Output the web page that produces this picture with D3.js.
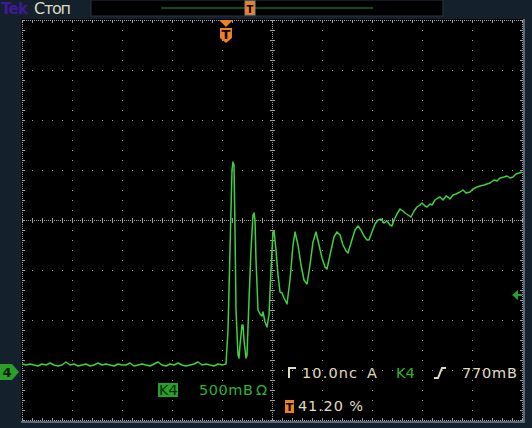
<!DOCTYPE html>
<html>
<head>
<meta charset="utf-8">
<script src="https://cdn.jsdelivr.net/npm/d3@7"></script>
<style>
  body { margin: 0; background: #15202d; }
  svg { display: block; }
  text { font-family: "DejaVu Sans", sans-serif; }
</style>
</head>
<body>
<div id="scope"></div>
<script>
// channel 4 trace, time in ns (trigger at 0), voltage in V
const baseStart = -40.8, baseStep = 0.8;
const baseVolts = [0.08,0.07,0.08,0.07,0.06,0.08,0.07,0.09,0.07,0.06,0.07,0.10,0.07,0.08,0.06,0.07,
  0.08,0.06,0.07,0.09,0.07,0.08,0.07,0.06,0.08,0.07,0.07,0.09,0.06,0.07,0.08,0.07,0.06,0.08,0.10,
  0.07,0.06,0.08,0.07,0.09,0.07,0.06,0.07,0.08,0.10,0.07,0.08,0.07,0.06,0.08,0.07,0.08];
const pulseTimes = [0,0.4,0.8,1.2,1.4,1.6,1.8,2.0,2.4,2.6,2.8,3.2,3.4,3.6,4.0,4.2,4.6,5.0,5.4,5.6,5.8,6.0,
  6.4,6.8,7.2,7.4,7.8,8.2,8.6,9.0,9.4,9.6,10.0,10.4,10.8,11.2,11.6,12.2,12.8,13.4,13.8,14.4,15.0,15.6,
  16.2,16.8,17.4,18.0,18.6,19.2,19.8,20.2,20.8,21.6,22.2,22.8,23.4,24.0,24.4,25.0,25.8,26.4,27.0,27.6,
  28.2,28.6,29.2,29.8,30.4,31.0,31.6,32.2,32.8,33.2,33.6,34.2,34.8,35.4,35.8,36.4,37.0,37.6,38.2,38.8,
  39.2,39.8,40.2,40.8,41.2,41.8,42.4,42.8,43.4,44.0,44.4,44.8,45.4,46.0,46.8,47.4,48.0,48.8,49.4,50.2,
  50.8,51.6,52.2,52.8,53.6,54.2,54.8,55.6,56.2,56.8,57.4,58.0,58.6,59.2];
const pulseVolts = [0.08,0.42,1.22,2.02,2.10,2.07,1.42,0.62,0.17,0.14,0.27,0.47,0.47,0.32,0.14,0.17,0.72,
  1.22,1.57,1.59,1.52,1.12,0.62,0.58,0.56,0.60,0.50,0.45,0.57,1.02,1.40,1.41,1.22,0.97,0.80,0.79,0.74,
  0.68,0.92,1.27,1.40,1.27,1.07,0.92,0.88,1.07,1.30,1.40,1.27,1.14,1.05,1.03,1.17,1.35,1.40,1.37,1.27,
  1.21,1.19,1.29,1.42,1.46,1.42,1.36,1.32,1.32,1.40,1.48,1.52,1.53,1.49,1.51,1.47,1.46,1.52,1.58,1.63,
  1.61,1.59,1.57,1.55,1.61,1.65,1.67,1.69,1.66,1.65,1.68,1.67,1.72,1.74,1.75,1.72,1.76,1.75,1.73,1.77,
  1.78,1.80,1.82,1.79,1.80,1.83,1.85,1.86,1.87,1.88,1.89,1.92,1.91,1.94,1.95,1.96,1.94,1.95,1.98,1.99,2.00];
const timeDomain = [-40.8, 59.2];      // 10 ns/div
const voltDomain = [-0.48, 3.52];      // 500 mV/div, ground at marker
const triggerLevel = 0.77;
const status = ["Tek", "Стоп"];
const readout = { timebase: "10.0nс", source: "K4", level: "770mВ", scale: "500mВ", trigPos: "41.20 %" };

const W = 532, H = 428;
const svg = d3.select("#scope").append("svg").attr("width", W).attr("height", H);
svg.append("rect").attr("width", W).attr("height", H).attr("fill", "#15202d");

const x = d3.scaleLinear().domain(timeDomain).range([22, 522]);
const y = d3.scaleLinear().domain(voltDomain).range([420, 20]);
const gx = d3.scaleLinear().domain([0, 10]).range([22, 522]);
const gy = d3.scaleLinear().domain([0, 8]).range([20, 420]);

// screen
svg.append("rect").attr("x", 21).attr("y", 19).attr("width", 502).attr("height", 402).attr("fill", "#000");
svg.append("rect").attr("x", 523).attr("y", 19).attr("width", 2).attr("height", 404).attr("fill", "#5a6a7c");
svg.append("rect").attr("x", 21).attr("y", 421).attr("width", 504).attr("height", 2).attr("fill", "#5a6a7c");

// graticule dots
const dots = [];
const grid = svg.append("g").attr("fill", "#a0a0a0");
for (let i = 0; i <= 10; i++) {
  const px = Math.round(gx(i));
  const dense = (i === 0 || i === 5 || i === 10);
  for (let py = 20; py <= 420; py += dense ? 2 : 10) dots.push([px, py]);
}
for (let j = 0; j <= 8; j++) {
  const py = Math.round(gy(j));
  const dense = (j === 0 || j === 4 || j === 8);
  for (let px = 22; px <= 522; px += dense ? 2 : 10) dots.push([px, py]);
}
// minor ticks on center lines and border
for (let px = 22; px <= 522; px += 10) {
  for (const d of [-2, -1, 1, 2]) dots.push([px, 220 + d]);
  dots.push([px, 21], [px, 22], [px, 418], [px, 419]);
}
for (let py = 20; py <= 420; py += 10) {
  for (const d of [-2, -1, 1, 2]) dots.push([272 + d, py]);
  dots.push([23, py], [24, py], [520, py], [521, py]);
}
grid.selectAll("rect").data(dots).join("rect")
  .attr("x", d => d[0]).attr("y", d => d[1]).attr("width", 1).attr("height", 1);

// trace
const trace = baseVolts.map((v, i) => [baseStart + i * baseStep, v])
  .concat(pulseTimes.map((t, i) => [t, pulseVolts[i]]));
svg.append("path").datum(trace)
  .attr("fill", "none").attr("stroke", "#40d040").attr("stroke-width", 1.5)
  .attr("stroke-linejoin", "round")
  .attr("d", d3.line().x(d => x(d[0])).y(d => y(d[1])));

// top status bar
svg.append("text").attr("x", 1).attr("y", 14).attr("font-size", 15).attr("font-weight", "bold")
  .attr("fill", "#3f1a96").attr("textLength", 27).text(status[0]);
svg.append("text").attr("x", 34).attr("y", 14).attr("font-size", 16)
  .attr("fill", "#dcdcbc").attr("textLength", 37).text(status[1]);
svg.append("rect").attr("x", 91).attr("y", 0).attr("width", 352).attr("height", 16)
  .attr("fill", "#000").attr("stroke", "#2a3545");
svg.append("line").attr("x1", 161).attr("x2", 373).attr("y1", 8).attr("y2", 8)
  .attr("stroke", "#2f8f2f").attr("stroke-width", 1);
svg.append("rect").attr("x", 245).attr("y", 1).attr("width", 10).attr("height", 14)
  .attr("fill", "#f08020").attr("stroke", "#888");
svg.append("text").attr("x", 250).attr("y", 13).attr("text-anchor", "middle").attr("font-size", 10)
  .attr("font-weight", "bold").attr("fill", "#000").text("T");

// trigger position marker
const tx = x(0);
svg.append("path").attr("d", `M${tx - 7},20 L${tx + 7},20 L${tx},27 Z`).attr("fill", "#f08020");
svg.append("path").attr("d", `M${tx - 6},28 L${tx + 6},28 L${tx + 6},38 L${tx},43 L${tx - 6},38 Z`)
  .attr("fill", "#f08020");
svg.append("text").attr("x", tx).attr("y", 39).attr("text-anchor", "middle").attr("font-size", 13)
  .attr("font-weight", "bold").attr("fill", "#000").text("T");

// channel ground marker
const g0 = y(0);
svg.append("path").attr("d", `M0,${g0 - 8} L12,${g0 - 8} L19,${g0} L12,${g0 + 8} L0,${g0 + 8} Z`)
  .attr("fill", "#2aa02a");
svg.append("text").attr("x", 7).attr("y", g0 + 5).attr("text-anchor", "middle").attr("font-size", 13)
  .attr("font-weight", "bold").attr("fill", "#0a200a").text("4");

// trigger level marker
const tl = y(triggerLevel);
svg.append("path").attr("d", `M512,${tl} L518,${tl - 5} L518,${tl - 1} L522,${tl - 1} L522,${tl + 1} L518,${tl + 1} L518,${tl + 5} Z`)
  .attr("fill", "#2aa02a");

// readouts
const cream = "#e0dcc0", green = "#2fb02f";
const rd = svg.append("g").attr("font-size", 14.5);
rd.append("path").attr("d", "M288,368 L296,368 M289,368 L289,378").attr("stroke", cream).attr("stroke-width", 2).attr("fill", "none");
rd.append("text").attr("x", 302).attr("y", 378).attr("fill", cream).attr("textLength", 55).text(readout.timebase);
rd.append("text").attr("x", 367).attr("y", 378).attr("fill", cream).text("A");
rd.append("text").attr("x", 396).attr("y", 378).attr("fill", green).text(readout.source);
rd.append("path").attr("d", "M434,378 L438,378 L442,368 L446,368").attr("stroke", cream)
  .attr("stroke-width", 2).attr("fill", "none");
rd.append("text").attr("x", 462).attr("y", 378).attr("fill", cream).attr("textLength", 55).text(readout.level);

rd.append("rect").attr("x", 158).attr("y", 383).attr("width", 20).attr("height", 14).attr("fill", "#2aa02a");
rd.append("text").attr("x", 159).attr("y", 395).attr("fill", "#0b2a0b").text(readout.source);
rd.append("text").attr("x", 199).attr("y", 395).attr("fill", green).attr("textLength", 54).text(readout.scale);
rd.append("text").attr("x", 256).attr("y", 395).attr("fill", green).text("Ω");

rd.append("rect").attr("x", 285).attr("y", 400).attr("width", 9).attr("height", 13).attr("fill", "#f08020");
rd.append("text").attr("x", 289.5).attr("y", 411).attr("text-anchor", "middle").attr("font-size", 11)
  .attr("font-weight", "bold").attr("fill", "#000").text("T");
rd.append("text").attr("x", 298).attr("y", 411).attr("fill", cream).attr("textLength", 65).text(readout.trigPos);
</script>
</body>
</html>
